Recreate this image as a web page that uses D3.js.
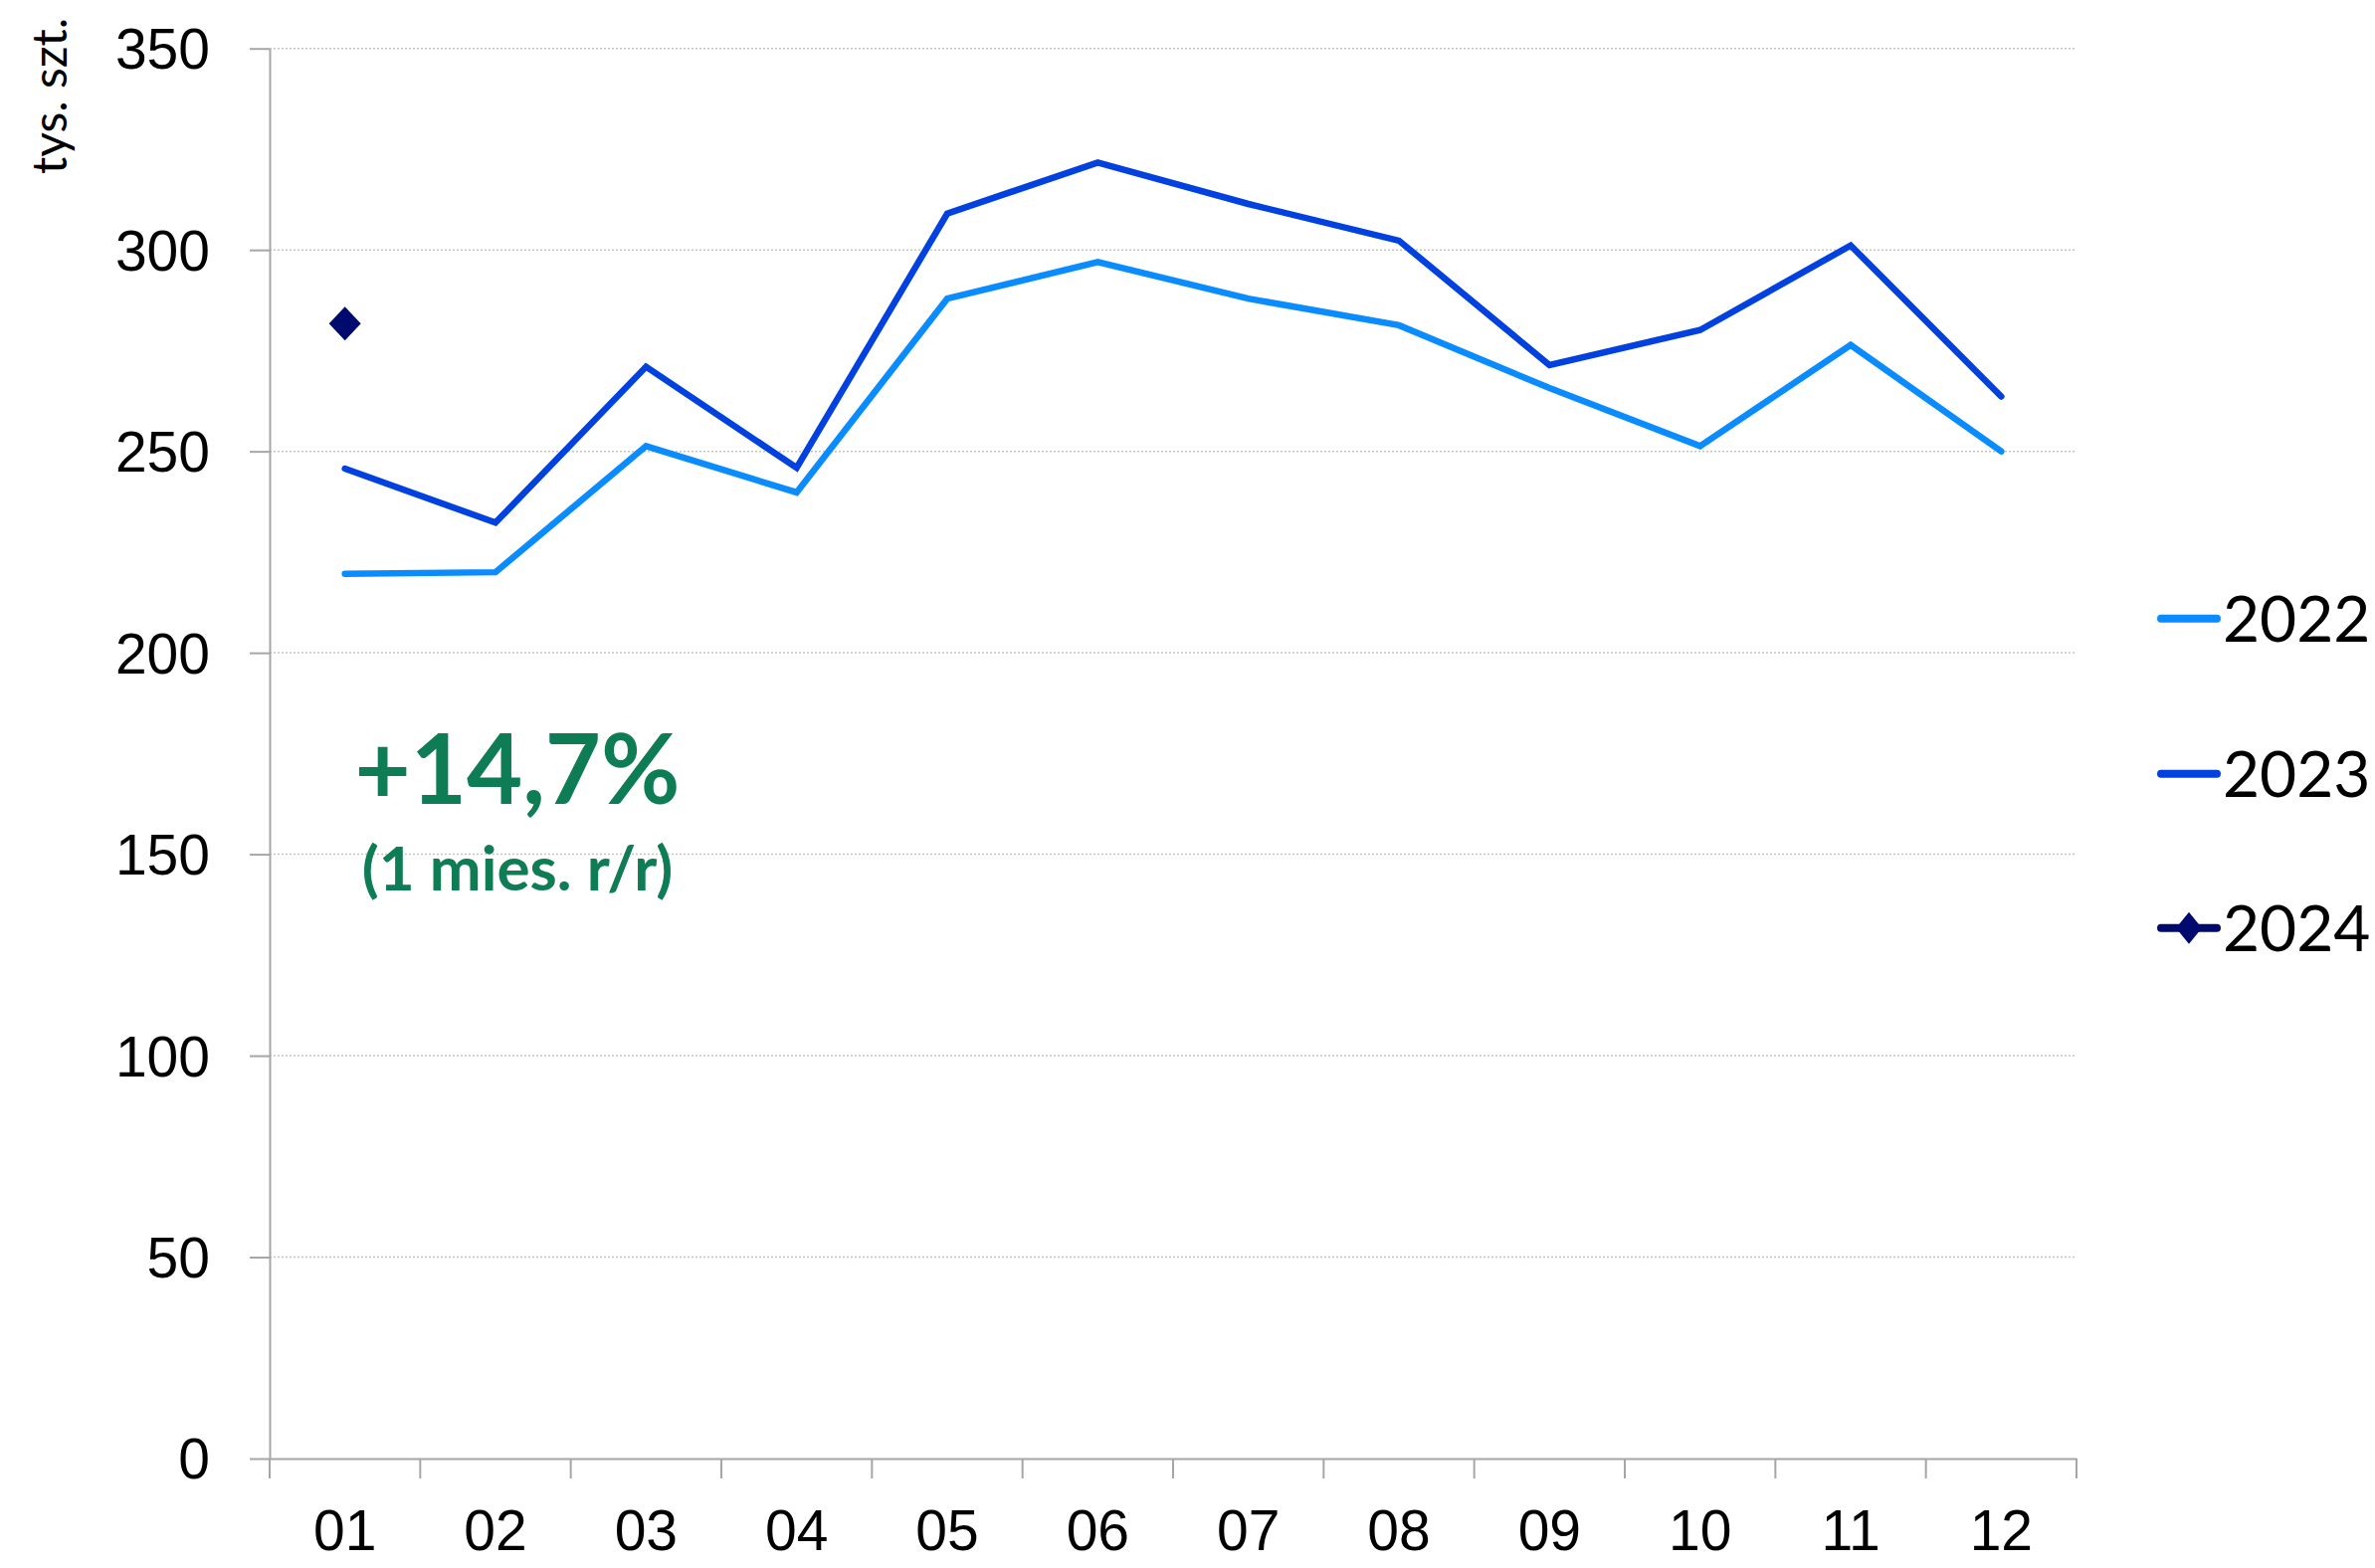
<!DOCTYPE html>
<html>
<head>
<meta charset="utf-8">
<script src="https://cdn.jsdelivr.net/npm/d3@7"></script>
<style>
  body { margin: 0; background: #fff; }
  svg { display: block; font-family: Lato, "Open Sans", sans-serif; }
</style>
</head>
<body>
<svg id="chart" width="2387" height="1576"></svg>
<script>
// data (tys. szt.)
const months = ["01", "02", "03", "04", "05", "06", "07", "08", "09", "10", "11", "12"];
const values2022 = [219.6, 220.0, 251.3, 239.8, 287.9, 297.0, 287.9, 281.3, 265.7, 251.3, 276.4, 250.0];
const values2023 = [245.7, 232.3, 271.0, 245.9, 309.0, 321.7, 311.4, 302.3, 271.4, 280.1, 301.1, 263.6];
const values2024 = [281.7];
const yTicks = [0, 50, 100, 150, 200, 250, 300, 350];
const seriesNames = ["2022", "2023", "2024"];
const seriesColors = ["#0A8CFF", "#0041E0", "#000A6E"];

const margin = { top: 48.7, left: 271 };
const svg = d3.select('svg#chart');
const width = 2087 - margin.left;
const height = 1466 - margin.top;

const g = svg.append('g')
  .attr('transform', `translate(${margin.left},${margin.top})`);

const xScale = d3.scaleBand()
  .domain(months)
  .range([0, width])
  .padding(0);

const yScale = d3.scaleLinear()
  .domain([0, 350])
  .range([height, 0]);

const axisColor = "#a6a6a6";

// gridlines
g.append('g')
  .attr('class', 'grid')
  .selectAll('line')
  .data(yTicks.filter(d => d > 0))
  .enter()
  .append('line')
  .attr('x1', 0)
  .attr('x2', width)
  .attr('y1', d => yScale(d))
  .attr('y2', d => yScale(d))
  .attr('stroke', '#c4c4c4')
  .attr('stroke-width', 1.5)
  .attr('stroke-dasharray', '2,2');

// y axis
const yAxis = d3.axisLeft(yScale)
  .tickValues(yTicks)
  .tickSizeInner(20)
  .tickSizeOuter(0)
  .tickPadding(40);

const yAxisG = g.append('g')
  .attr('class', 'y-axis-g')
  .call(yAxis);
yAxisG.select('.domain').attr('stroke', axisColor).attr('stroke-width', 2);
yAxisG.selectAll('.tick line').attr('stroke', axisColor).attr('stroke-width', 2);
yAxisG.selectAll('.tick text')
  .attr('font-size', 57)
  .attr('fill', '#000')
  .attr('dy', '0.35em');

// x axis: labels at band centres, ticks at band edges
const xAxis = d3.axisBottom(xScale)
  .tickSize(0)
  .tickPadding(52);

const xAxisG = g.append('g')
  .attr('class', 'x-axis-g')
  .attr('transform', `translate(0,${height})`)
  .call(xAxis);
xAxisG.select('.domain').attr('stroke', axisColor).attr('stroke-width', 2);
xAxisG.selectAll('.tick text')
  .attr('font-size', 57)
  .attr('fill', '#000');

const edges = months.map(m => xScale(m)).concat([width]);
xAxisG.selectAll('line.edge')
  .data(edges)
  .enter()
  .append('line')
  .attr('class', 'edge')
  .attr('x1', d => d)
  .attr('x2', d => d)
  .attr('y1', 0)
  .attr('y2', 20)
  .attr('stroke', axisColor)
  .attr('stroke-width', 2);

// y axis title
svg.append('text')
  .attr('transform', `translate(67,18) rotate(-90)`)
  .attr('text-anchor', 'end')
  .attr('font-size', 48)
  .attr('fill', '#000')
  .text('tys. szt.');

// lines
const line = d3.line()
  .x((d, i) => xScale(months[i]) + xScale.bandwidth() / 2)
  .y(d => yScale(d));

[values2022, values2023].forEach((vals, i) => {
  g.append('path')
    .datum(vals)
    .attr('fill', 'none')
    .attr('stroke', seriesColors[i])
    .attr('stroke-width', 6.5)
    .attr('stroke-linecap', 'round')
    .attr('stroke-linejoin', 'miter')
    .attr('d', line);
});

// 2024 markers
const diamond = (cx, cy, w, h) => `M${cx},${cy - h}L${cx + w},${cy}L${cx},${cy + h}L${cx - w},${cy}Z`;
g.selectAll('path.m2024')
  .data(values2024)
  .enter()
  .append('path')
  .attr('class', 'm2024')
  .attr('fill', seriesColors[2])
  .attr('d', (d, i) => diamond(xScale(months[i]) + xScale.bandwidth() / 2, yScale(d), 16, 17));

// annotation
const ann = svg.append('g').attr('fill', '#0E7C55').attr('font-weight', 'bold').attr('text-anchor', 'middle');
ann.append('text')
  .attr('x', 520)
  .attr('y', 808)
  .attr('font-size', 97)
  .text('+14,7%');
ann.append('text')
  .attr('x', 520)
  .attr('y', 895)
  .attr('font-size', 62)
  .text('(1 mies. r/r)');

// legend
const legendRows = [621.7, 777.7, 932.7];
const legend = svg.append('g').attr('class', 'legend');
seriesNames.forEach((name, i) => {
  const row = legend.append('g').attr('transform', `translate(2172,${legendRows[i]})`);
  row.append('line')
    .attr('x1', 0).attr('x2', 56)
    .attr('y1', 0).attr('y2', 0)
    .attr('stroke', seriesColors[i])
    .attr('stroke-width', 8)
    .attr('stroke-linecap', 'round');
  if (name === "2024") {
    row.append('path')
      .attr('fill', seriesColors[i])
      .attr('d', diamond(28, 0, 13, 16));
  }
  row.append('text')
    .attr('x', 62)
    .attr('y', 23)
    .attr('font-size', 64)
    .attr('fill', '#000')
    .text(name);
});
</script>
</body>
</html>
